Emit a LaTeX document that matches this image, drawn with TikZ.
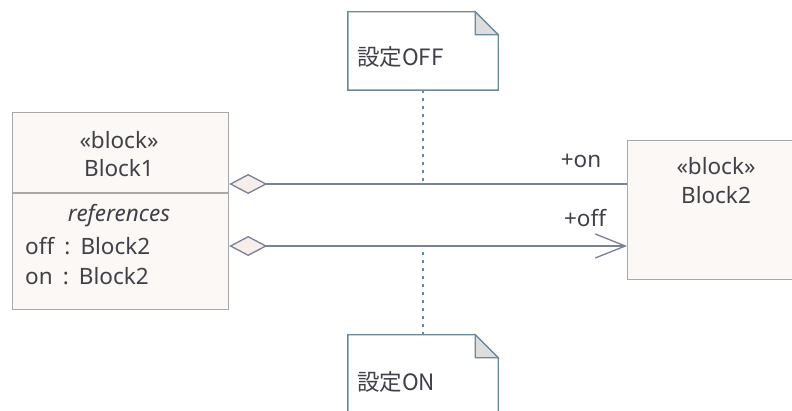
\documentclass[tikz,border=0pt]{standalone}
\usepackage{fontspec}
\setmainfont{Noto Sans}
\newfontfamily\cjk{Noto Sans CJK JP}
\usetikzlibrary{arrows.meta}

\definecolor{blockfill}{RGB}{252,248,245}
\definecolor{blockline}{RGB}{168,168,168}
\definecolor{conn}{RGB}{122,128,152}
\definecolor{diafill}{RGB}{247,238,234}
\definecolor{noteline}{RGB}{104,138,154}
\definecolor{foldfill}{RGB}{221,221,221}
\definecolor{txt}{RGB}{64,64,72}

\newcommand{\sepcolon}{\hspace{0.45em}:\hspace{0.45em}}

\tikzset{
  blockbox/.style={draw=blockline, fill=blockfill, line width=1.2pt, inner sep=0pt, anchor=north west},
  notebox/.style={draw=none, inner sep=0pt, minimum width=150pt, minimum height=78pt},
  notepath/.style={draw=noteline, fill=white, line width=1.4pt, line join=miter},
  foldpath/.style={draw=noteline, fill=foldfill, line width=1.2pt},
  label/.style={font=\fontsize{22.5}{26}\selectfont, text=txt, inner sep=0pt},
  cjklabel/.style={label, anchor=west, font=\fontsize{22.5}{26}\selectfont\cjk},
  assoc/.style={draw=conn, line width=1.8pt,
    {Diamond[length=38pt, width=20pt, fill=diafill, line width=1.3pt]}-},
  navassoc/.style={assoc, {Diamond[length=38pt, width=20pt, fill=diafill, line width=1.3pt]}-{Straight Barb[length=30pt, width=24pt, line width=1.3pt]}},
  anchorline/.style={draw=noteline, line width=1.3pt, dash pattern=on 3pt off 5pt},
}

\begin{document}
\begin{tikzpicture}[x=1pt, y=-1pt]
  \clip (0,0) rectangle (792,411);
  \fill[white] (0,0) rectangle (792,411);

  % Block1 with its references compartment
  \node[blockbox, minimum width=216pt, minimum height=197pt] (b1) at (12,112) {};
  \draw[draw=blockline, line width=1.2pt] (b1.west |- 0,193) -- (b1.east |- 0,193);
  \node[label] (b1st) at (119,140) {«block»};
  \node[label] (b1name) at (119,168) {Block1};
  \node[label, font=\fontsize{22.5}{26}\selectfont\itshape] (b1ref) at (119,216) {references};
  \node[label, anchor=west] (b1off) at (25,246) {off\sepcolon Block2};
  \node[label, anchor=west] (b1on) at (25,276) {on\sepcolon Block2};

  % Block2
  \node[blockbox, minimum width=180pt, minimum height=139pt] (b2) at (627,140) {};
  \node[label] (b2st) at (716,166) {«block»};
  \node[label] (b2name) at (716,195) {Block2};

  % association end points
  \coordinate (onA) at (b1.east |- 0,184);
  \coordinate (onB) at (b2.west |- 0,184);
  \coordinate (offA) at (b1.east |- 0,246);
  \coordinate (offB) at (b2.west |- 0,246);

  \draw[assoc] (onA) -- (onB);
  \draw[navassoc] (offA) -- (offB);
  \node[label] (lon) at (581,161) {+on};
  \node[label] (loff) at (585,218) {+off};

  % notes
  \node[notebox] (n1) at (423,51) {};
  \node[notebox] (n2) at (423,374) {};
  \foreach \n in {n1,n2} {
    \path[notepath] (\n.north west) -- ([xshift=-23pt]\n.north east)
      -- ([yshift=-23pt]\n.north east) -- (\n.south east) -- (\n.south west) -- cycle;
    \path[foldpath] ([xshift=-23pt]\n.north east) -- ([yshift=-23pt]\n.north east)
      -- ([xshift=-23pt,yshift=-23pt]\n.north east) -- cycle;
  }
  \node[cjklabel] (n1t) at (357,57) {設定OFF};
  \node[cjklabel] (n2t) at (357,382) {設定ON};

  % note anchors to the associations
  \coordinate (m1) at (n1.south |- onA);
  \coordinate (m2) at (n2.north |- offA);
  \draw[anchorline] (n1.south) -- (m1);
  \draw[anchorline] (n2.north) -- (m2);
\end{tikzpicture}
\end{document}
